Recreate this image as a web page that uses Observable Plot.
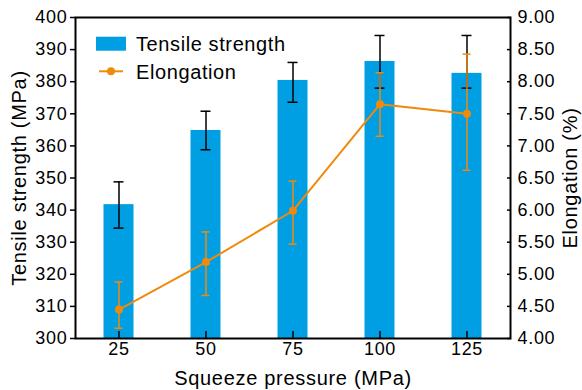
<!DOCTYPE html>
<html><head><meta charset="utf-8">
<script src="https://cdn.jsdelivr.net/npm/d3@7"></script>
<script src="https://cdn.jsdelivr.net/npm/@observablehq/plot@0.6"></script>
<style>
body{margin:0;background:#fff}
#wrap{position:relative;width:582px;height:390px}
#wrap svg{font-family:"Liberation Sans",Arial,sans-serif}
#legend{position:absolute;left:0;top:0;pointer-events:none}
</style>
</head><body><div id="wrap"></div>
<script>
const pressures = ["25", "50", "75", "100", "125"];
const strength = [341.7, 364.8, 380.4, 386.3, 382.6];
const strengthLow = [334.4, 358.8, 373.6, 378.0, 378.0];
const strengthHigh = [348.8, 370.8, 386.0, 394.4, 394.4];
const elongation = [4.45, 5.19, 5.99, 7.65, 7.50];
const elongLow = [4.16, 4.67, 5.47, 7.15, 6.62];
const elongHigh = [4.88, 5.66, 6.45, 8.14, 8.43];
const leftTicks = [300, 310, 320, 330, 340, 350, 360, 370, 380, 390, 400];
const rightTicks = [4.0, 4.5, 5.0, 5.5, 6.0, 6.5, 7.0, 7.5, 8.0, 8.5, 9.0];
const leftDomain = [300, 400];
const rightDomain = [4, 9];

const blue = "#009FE3";
const orange = "#F08A0C";
const toLeft = v => leftDomain[0] + (v - rightDomain[0]) * (leftDomain[1] - leftDomain[0]) / (rightDomain[1] - rightDomain[0]);
const toRight = v => rightDomain[0] + (v - leftDomain[0]) * (rightDomain[1] - rightDomain[0]) / (leftDomain[1] - leftDomain[0]);

const data = pressures.map((p, i) => ({
  p, s: strength[i], sLo: strengthLow[i], sHi: strengthHigh[i],
  e: toLeft(elongation[i]), eLo: toLeft(elongLow[i]), eHi: toLeft(elongHigh[i])
}));

const chart = Plot.plot({
  width: 582, height: 390,
  marginLeft: 75, marginRight: 72, marginTop: 17, marginBottom: 52,
  style: {fontSize: "18px", letterSpacing: "0.7px", color: "#000", background: "#fff"},
  x: {type: "band", domain: pressures, padding: 0},
  y: {domain: leftDomain},
  marks: [
    Plot.barY(data, {x: "p", y1: () => leftDomain[0], y2: "s", fill: blue, insetLeft: 28.5, insetRight: 28.5}),
    Plot.ruleX(data, {x: "p", y1: "sLo", y2: "sHi", stroke: "#000", strokeWidth: 1.5}),
    Plot.tickY(data, {x: "p", y: "sLo", stroke: "#000", strokeWidth: 1.5, insetLeft: 38.5, insetRight: 38.5}),
    Plot.tickY(data, {x: "p", y: "sHi", stroke: "#000", strokeWidth: 1.5, insetLeft: 38.5, insetRight: 38.5}),
    Plot.line(data, {x: "p", y: "e", stroke: orange, strokeWidth: 2}),
    Plot.ruleX(data, {x: "p", y1: "eLo", y2: "eHi", stroke: orange, strokeWidth: 1.5}),
    Plot.tickY(data, {x: "p", y: "eLo", stroke: orange, strokeWidth: 1.5, insetLeft: 39.5, insetRight: 39.5}),
    Plot.tickY(data, {x: "p", y: "eHi", stroke: orange, strokeWidth: 1.5, insetLeft: 39.5, insetRight: 39.5}),
    Plot.dot(data, {x: "p", y: "e", r: 4, fill: orange, stroke: "none"}),
    Plot.axisX({anchor: "bottom", tickSize: -7, tickPadding: 10.5, label: null, strokeWidth: 1.5}),
    Plot.axisX({anchor: "bottom", ticks: [], label: "Squeeze pressure (MPa)", labelAnchor: "center", labelArrow: "none", labelOffset: 46, fontSize: 20}),
    Plot.axisY({anchor: "left", ticks: leftTicks, tickSize: 5, tickPadding: 3, tickFormat: d => String(d), label: null, strokeWidth: 1.5}),
    Plot.axisY({anchor: "left", ticks: [], label: "Tensile strength (MPa)", labelAnchor: "center", labelArrow: "none", labelOffset: 64, fontSize: 20}),
    Plot.axisY({anchor: "right", ticks: rightTicks.map(toLeft), tickSize: -4, tickPadding: 11, tickFormat: d => toRight(d).toFixed(2), label: null, strokeWidth: 1.5}),
    Plot.axisY({anchor: "right", ticks: [], label: "Elongation (%)", labelAnchor: "center", labelArrow: "none", labelOffset: 66, fontSize: 20}),
    Plot.frame({stroke: "#000", strokeWidth: 2})
  ]
});
const wrap = document.getElementById("wrap");
wrap.appendChild(chart);

// legend overlay
const ns = "http://www.w3.org/2000/svg";
const lg = document.createElementNS(ns, "svg");
lg.setAttribute("id", "legend");
lg.setAttribute("width", 582);
lg.setAttribute("height", 390);
lg.innerHTML = `
  <rect x="96" y="36.7" width="30" height="14" fill="${blue}"/>
  <text x="136" y="50.5" font-size="20" letter-spacing="0.6" fill="#000">Tensile strength</text>
  <line x1="99" x2="123" y1="71.3" y2="71.3" stroke="${orange}" stroke-width="2"/>
  <circle cx="111" cy="71.3" r="4" fill="${orange}"/>
  <text x="136" y="78.5" font-size="20" letter-spacing="0.6" fill="#000">Elongation</text>`;
wrap.appendChild(lg);
</script>
</body></html>
